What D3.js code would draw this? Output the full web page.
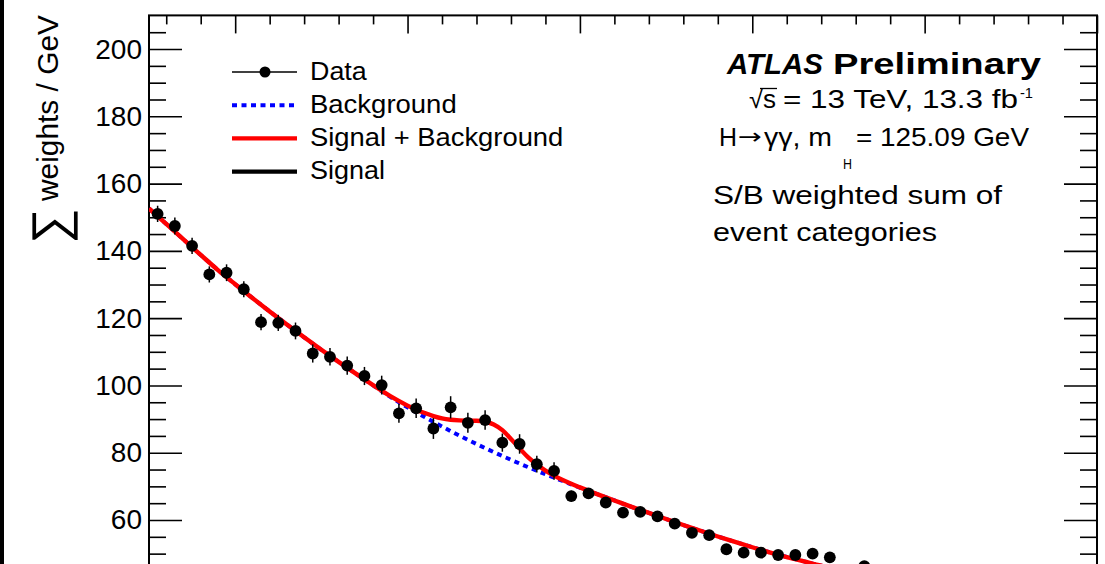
<!DOCTYPE html>
<html>
<head>
<meta charset="utf-8">
<script src="https://cdn.jsdelivr.net/npm/d3@7"></script>
<style>
  html, body { margin: 0; padding: 0; background: #fff; overflow: hidden; }
  svg { display: block; font-family: "Liberation Sans", Arial, Helvetica, sans-serif; }
</style>
</head>
<body>
<div id="chart"></div>
<script>
// Diphoton mass bins (GeV) and S/B weighted data
const massBins = [105.5, 106.5, 107.5, 108.5, 109.5, 110.5, 111.5, 112.5, 113.5, 114.5,
  115.5, 116.5, 117.5, 118.5, 119.5, 120.5, 121.5, 122.5, 123.5, 124.5,
  125.5, 126.5, 127.5, 128.5, 129.5, 130.5, 131.5, 132.5, 133.5, 134.5,
  135.5, 136.5, 137.5, 138.5, 139.5, 140.5, 141.5, 142.5, 143.5, 144.5,
  145.5, 146.5];
const dataValues = [151.0, 147.4, 141.5, 133.0, 133.5, 128.6, 118.8, 118.6, 116.2, 109.5,
  108.5, 105.9, 102.8, 100.1, 91.7, 93.2, 87.2, 93.5, 88.9, 89.7,
  83.0, 82.6, 76.6, 74.6, 67.1, 67.9, 65.2, 62.2, 62.4, 61.1,
  58.9, 56.2, 55.5, 51.3, 50.3, 50.3, 49.6, 49.6, 50.0, 48.9,
  45.0, 46.3];
const dataErrors = [2.4, 2.5, 2.4, 2.4, 2.5, 2.4, 2.4, 2.4, 2.5, 2.7,
  2.6, 2.7, 2.7, 2.8, 2.8, 2.9, 3.1, 3.3, 3.0, 2.9,
  2.7, 2.9, 2.5, 2.6, 1.6, 1.6, 1.6, 1.6, 1.5, 1.5,
  1.5, 1.5, 1.5, 1.4, 1.4, 1.4, 1.4, 1.4, 1.4, 1.4,
  1.4, 1.4];

// Background-only fit
const bkgMass = [105, 106, 107, 108, 109, 110, 111, 112, 113, 114, 115, 116, 117, 118, 119,
  120, 121, 122, 123, 124, 125, 126, 127, 128, 129, 130, 131, 132, 133, 134,
  135, 136, 137, 138, 139, 140, 141, 142, 143, 144, 145, 146, 147, 148];
const bkgValues = [152.6, 148.0, 143.4, 138.8, 134.3, 130.1, 126.0, 122.0, 118.1, 114.3, 110.6, 107.0, 103.5, 100.0, 96.6,
  93.5, 90.6, 87.8, 85.1, 82.6, 80.2, 77.9, 75.7, 73.6, 71.6, 69.6, 67.7, 65.8, 63.9, 62.1,
  60.3, 58.5, 56.8, 55.1, 53.5, 51.9, 50.4, 49.0, 47.7, 46.4, 45.2, 44.0, 42.9, 41.8];

// Signal + background fit
const sbMass = [105, 106, 107, 108, 109, 110, 111, 112, 113, 114, 115, 116, 117, 118, 119, 120,
  120.5, 121, 121.5, 122, 122.5, 123, 123.5, 124, 124.5, 125, 125.5, 126, 126.5, 127, 127.5, 128, 128.5, 129,
  130, 131, 132, 133, 134, 135, 136, 137, 138, 139, 140, 141, 142, 143, 144, 145, 146, 147, 148];
const sbValues = [152.6, 148.0, 143.4, 138.8, 134.3, 130.1, 126.0, 122.0, 118.1, 114.3, 110.6, 107.0, 103.5, 100.1, 96.8, 94.0,
  92.8, 91.8, 90.9, 90.2, 89.8, 89.6, 89.5, 89.5, 89.2, 88.4, 86.7, 84.1, 81.3, 78.6, 76.5, 74.7, 73.2, 71.9,
  69.7, 67.7, 65.8, 63.9, 62.1, 60.3, 58.5, 56.8, 55.1, 53.5, 51.9, 50.4, 49.0, 47.7, 46.4, 45.2, 44.0, 42.9, 41.8];

// Signal only (sits below the visible window)
const sigMass = [105, 118, 119, 120, 121, 122, 123, 124, 124.5, 125, 125.5, 126, 127, 128, 129, 130, 132, 148];
const sigValues = [0, 0.1, 0.2, 0.5, 1.2, 2.4, 4.5, 6.9, 7.8, 8.2, 7.7, 6.2, 2.9, 1.1, 0.3, 0.1, 0, 0];

const yMajorTicks = [60, 80, 100, 120, 140, 160, 180, 200];
const yMinorTicks = [45, 50, 55, 65, 70, 75, 85, 90, 95, 105, 110, 115, 125, 130, 135,
  145, 150, 155, 165, 170, 175, 185, 190, 195, 205];
const xMajorTicks = [110, 120, 130, 140, 150, 160];
const xMinorTicks = [106, 108, 112, 114, 116, 118, 122, 124, 126, 128, 132, 134, 136, 138,
  142, 144, 146, 148, 152, 154, 156, 158];
const legendLabels = ['Data', 'Background', 'Signal + Background', 'Signal'];

const W = 1105, H = 564;
const plot = { left: 149, right: 1097, top: 15.4 };

const x = d3.scaleLinear().domain([105, 160]).range([plot.left, plot.right]);
const y = d3.scaleLinear().domain([30, 210]).range([plot.top + 180 * 3.364, plot.top]);

const svg = d3.select('#chart').append('svg')
  .attr('width', W)
  .attr('height', H);

// dark strip on the left edge
svg.append('rect').attr('x', 0).attr('y', 0).attr('width', 4).attr('height', H).attr('fill', '#000');

svg.append('defs').append('clipPath').attr('id', 'plotclip')
  .append('rect')
  .attr('x', plot.left).attr('y', plot.top)
  .attr('width', plot.right - plot.left).attr('height', H);

// Axes, ROOT style: ticks inside the frame
function styleAxis(g) {
  g.select('.domain').remove();
  g.selectAll('.tick line').attr('stroke', '#000').attr('stroke-width', 1.6);
}

svg.append('g')
  .attr('transform', `translate(${plot.left},0)`)
  .call(d3.axisLeft(y).tickValues(yMajorTicks).tickSizeInner(-33).tickSizeOuter(0).tickPadding(7))
  .call(styleAxis)
  .call(g => g.selectAll('.tick text')
    .attr('font-size', 28).attr('fill', '#000')
    .attr('font-family', '"Liberation Sans", Arial, sans-serif'));

svg.append('g')
  .attr('transform', `translate(${plot.left},0)`)
  .call(d3.axisLeft(y).tickValues(yMinorTicks).tickSizeInner(-17).tickSizeOuter(0).tickFormat(''))
  .call(styleAxis);

svg.append('g')
  .attr('transform', `translate(${plot.right},0)`)
  .call(d3.axisRight(y).tickValues(yMajorTicks).tickSizeInner(-33).tickSizeOuter(0).tickFormat(''))
  .call(styleAxis);

svg.append('g')
  .attr('transform', `translate(${plot.right},0)`)
  .call(d3.axisRight(y).tickValues(yMinorTicks).tickSizeInner(-17).tickSizeOuter(0).tickFormat(''))
  .call(styleAxis);

svg.append('g')
  .attr('transform', `translate(0,${plot.top})`)
  .call(d3.axisTop(x).tickValues(xMajorTicks).tickSizeInner(-18).tickSizeOuter(0).tickFormat(''))
  .call(styleAxis);

svg.append('g')
  .attr('transform', `translate(0,${plot.top})`)
  .call(d3.axisTop(x).tickValues(xMinorTicks).tickSizeInner(-9).tickSizeOuter(0).tickFormat(''))
  .call(styleAxis);

// frame
svg.append('rect')
  .attr('x', plot.left).attr('y', plot.top)
  .attr('width', plot.right - plot.left).attr('height', H)
  .attr('fill', 'none').attr('stroke', '#000').attr('stroke-width', 2);

const area = svg.append('g').attr('clip-path', 'url(#plotclip)');

const line = d3.line()
  .x(d => x(d[0]))
  .y(d => y(d[1]))
  .curve(d3.curveMonotoneX);

area.append('path')
  .attr('d', line(sigMass.map((m, i) => [m, sigValues[i]])))
  .attr('fill', 'none').attr('stroke', '#000').attr('stroke-width', 4);

area.append('path')
  .attr('d', line(bkgMass.map((m, i) => [m, bkgValues[i]])))
  .attr('fill', 'none').attr('stroke', '#0000ff').attr('stroke-width', 4)
  .attr('stroke-dasharray', '5,4.5');

area.append('path')
  .attr('d', line(sbMass.map((m, i) => [m, sbValues[i]])))
  .attr('fill', 'none').attr('stroke', '#ff0000').attr('stroke-width', 4.4);

// data points with error bars
const pts = area.selectAll('.pt')
  .data(massBins.map((m, i) => ({ m, v: dataValues[i], e: dataErrors[i] })))
  .enter().append('g').attr('class', 'pt');

pts.append('line')
  .attr('x1', d => x(d.m)).attr('x2', d => x(d.m))
  .attr('y1', d => y(d.v + d.e)).attr('y2', d => y(d.v - d.e))
  .attr('stroke', '#000').attr('stroke-width', 1.5);

pts.append('circle')
  .attr('cx', d => x(d.m)).attr('cy', d => y(d.v))
  .attr('r', 5.9).attr('fill', '#000');

// legend
const legend = svg.append('g').attr('transform', 'translate(232,72)');
const legendWidths = [56.7, 146.7, 253.3, 75];
const legendStyles = [
  { c: '#000', w: 1.5, dash: null },
  { c: '#0000ff', w: 4, dash: '5,4.5' },
  { c: '#ff0000', w: 4.4, dash: null },
  { c: '#000', w: 4.4, dash: null }];
legendLabels.forEach((label, i) => {
  const ly = i * 33.2;
  legend.append('line').attr('x1', 0).attr('x2', 65).attr('y1', ly).attr('y2', ly)
    .attr('stroke', legendStyles[i].c).attr('stroke-width', legendStyles[i].w)
    .attr('stroke-dasharray', legendStyles[i].dash);
  if (i === 0) {
    legend.append('circle').attr('cx', 33).attr('cy', ly).attr('r', 5.5).attr('fill', '#000');
  }
  legend.append('text')
    .attr('x', 78).attr('y', ly + 7.5)
    .attr('font-size', 25)
    .attr('textLength', legendWidths[i]).attr('lengthAdjust', 'spacingAndGlyphs')
    .text(label);
});

// ATLAS label and annotations
svg.append('text')
  .attr('x', 727).attr('y', 74)
  .attr('font-size', 29).attr('font-weight', 'bold').attr('font-style', 'italic')
  .attr('textLength', 96).attr('lengthAdjust', 'spacingAndGlyphs')
  .text('ATLAS');
svg.append('text')
  .attr('x', 833).attr('y', 74)
  .attr('font-size', 29).attr('font-weight', 'bold')
  .attr('textLength', 208).attr('lengthAdjust', 'spacingAndGlyphs')
  .text('Preliminary');

function label(txt, lx, ly, size, len, family) {
  const t = svg.append('text')
    .attr('x', lx).attr('y', ly).attr('font-size', size)
    .text(txt);
  if (len) t.attr('textLength', len).attr('lengthAdjust', 'spacingAndGlyphs');
  if (family) t.attr('font-family', family);
  return t;
}

// √s = 13 TeV, 13.3 fb-1
label('√', 749, 108, 25, 14);
label('s', 763, 108, 25, 13);
svg.append('line').attr('x1', 760).attr('x2', 777).attr('y1', 88.5).attr('y2', 88.5)
  .attr('stroke', '#000').attr('stroke-width', 1.3);
label('= 13 TeV, 13.3 fb', 783, 108, 25, 235);
label('-1', 1020, 98, 14, 13);

// H→γγ, m_H = 125.09 GeV
label('H', 719, 146, 25, 18);
label('→', 738, 144, 22, 24, '"DejaVu Sans", sans-serif');
label('γγ, m', 764, 146, 25, 68);
label('H', 843, 169, 14, 9);
label('= 125.09 GeV', 856, 146, 25, 173);

label('S/B weighted sum of', 713, 204, 26, 289);
label('event categories', 713, 241, 26, 224);

// y axis title
svg.append('text')
  .attr('transform', 'translate(58,201) rotate(-90)')
  .attr('font-size', 30)
  .attr('textLength', 186).attr('lengthAdjust', 'spacingAndGlyphs')
  .text('weights / GeV');
svg.append('text')
  .attr('transform', 'translate(67,244) rotate(-90)')
  .attr('font-size', 50)
  .text('∑');
</script>
</body>
</html>
